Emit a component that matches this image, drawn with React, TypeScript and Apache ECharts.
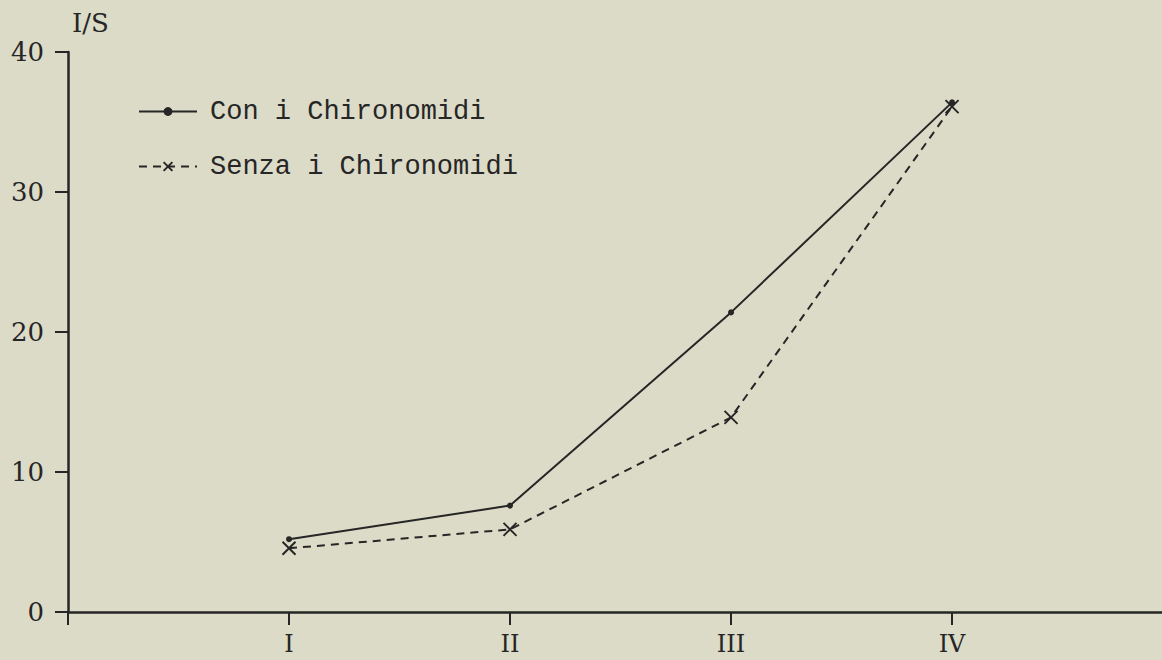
import React, { useEffect, useRef } from "react";
import * as echarts from "echarts";

const categories = ["I", "II", "III", "IV"];
const conValues = [5.2, 7.6, 21.4, 36.4];
const senzaValues = [4.55, 5.9, 13.9, 36.1];
const seriesNames = ["Con i Chironomidi", "Senza i Chironomidi"];
const yTicks = [0, 10, 20, 30, 40];
const yName = "I/S";

const INK = "#262626";
const BG = "#dcdbc8";
const SERIF = "'DejaVu Serif', serif";
const MONO = "'Liberation Mono', monospace";

export default function App() {
  const ref = useRef<HTMLDivElement>(null);
  useEffect(() => {
    if (!ref.current) return;
    const chart = echarts.init(ref.current, null, { renderer: "svg" });
    const toPairs = (vals: number[]) => vals.map((v, i) => [i + 1, v]);
    const xTickValues = [0, ...categories.map((_, i) => i + 1)];
    chart.setOption({
      animation: false,
      backgroundColor: BG,
      grid: { left: 68, top: 52, bottom: 48, right: 0, containLabel: false },
      legend: {
        orient: "vertical",
        left: 133,
        top: 93,
        itemWidth: 58,
        itemHeight: 11,
        itemGap: 28,
        textStyle: { fontFamily: MONO, fontSize: 27, color: INK, padding: [0, 0, 0, 8] },
        data: seriesNames,
      },
      xAxis: {
        type: "value",
        min: 0,
        max: 4.95,
        interval: 1,
        splitLine: { show: false },
        axisLine: { lineStyle: { color: INK, width: 2.5 } },
        axisTick: { length: 13, customValues: xTickValues, lineStyle: { color: INK, width: 2 } },
        axisLabel: {
          margin: 20,
          fontFamily: SERIF,
          fontSize: 24,
          color: INK,
          customValues: xTickValues,
          formatter: (v: number) => categories[Math.round(v) - 1] ?? "",
        },
      },
      yAxis: {
        type: "value",
        min: yTicks[0],
        max: yTicks[yTicks.length - 1],
        interval: 10,
        name: yName,
        nameLocation: "end",
        nameGap: 16,
        nameTextStyle: { fontFamily: SERIF, fontSize: 26, color: INK, align: "left", padding: [0, 0, 0, 4] },
        splitLine: { show: false },
        axisLine: { show: true, lineStyle: { color: INK, width: 2.5 } },
        axisTick: { show: true, length: 13, lineStyle: { color: INK, width: 2 } },
        axisLabel: { margin: 24, fontFamily: SERIF, fontSize: 26, color: INK },
      },
      series: [
        {
          name: seriesNames[0],
          type: "line",
          data: toPairs(conValues),
          symbol: "circle",
          symbolSize: 6,
          lineStyle: { color: INK, width: 2 },
          itemStyle: { color: INK },
        },
        {
          name: seriesNames[1],
          type: "line",
          data: toPairs(senzaValues),
          symbol: "path://M0,0L10,10M10,0L0,10",
          symbolSize: 13,
          lineStyle: { color: INK, width: 2, type: [8, 6] },
          itemStyle: { color: "transparent", borderColor: INK, borderWidth: 2 },
        },
      ],
    });
    return () => chart.dispose();
  }, []);
  return (
    <div
      ref={ref}
      style={{ position: "fixed", left: 0, top: 0, width: 1162, height: 660 }}
    />
  );
}
